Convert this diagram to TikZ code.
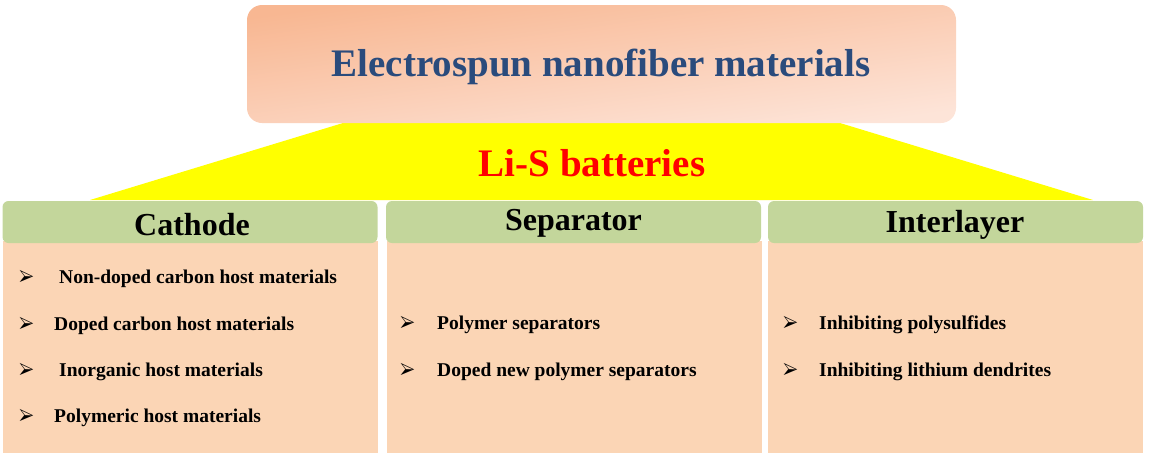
\documentclass[tikz,border=0pt]{standalone}
\usepackage{fontspec}
\setmainfont{Liberation Serif}
\usepackage{pifont}
\usepackage{xcolor}
\usepackage{tikz}
\definecolor{topdark}{HTML}{F8B792}
\definecolor{toplight}{HTML}{FDE4D8}
\definecolor{title}{HTML}{2A4B7C}
\definecolor{lisred}{HTML}{FF0000}
\definecolor{trap}{HTML}{FFFF00}
\definecolor{head}{HTML}{C3D69B}
\definecolor{body}{HTML}{FBD5B5}
\definecolor{ink}{HTML}{000000}
\newcommand{\arrowmark}{\scalebox{1}[1.45]{\ding{226}}}
\tikzset{
  topbox/.style={top color=topdark, bottom color=toplight, shading angle=8, rounded corners=15pt, minimum width=709pt, minimum height=118pt, inner sep=0pt},
  headbox/.style={fill=head, rounded corners=6pt, minimum width=375pt, minimum height=42pt, inner sep=0pt},
  headtxt/.style={text=ink, font=\bfseries\fontsize{32}{34}\selectfont},
  bodybox/.style={fill=body, minimum width=375pt, minimum height=212pt, inner sep=0pt},
  bul/.style={anchor=west, inner sep=0pt, text=ink, font=\fontsize{16}{17}\selectfont},
  item/.style={anchor=west, inner sep=0pt, text=ink, font=\bfseries\fontsize{19.5}{21}\selectfont},
}
\begin{document}
\begin{tikzpicture}[x=1pt, y=-1pt]
  \useasboundingbox (0,0) rectangle (1149,459);

  % yellow band under the title
  \coordinate (tl) at (343,123);
  \coordinate (tr) at (840,123);
  \coordinate (br) at (1093,200);
  \coordinate (bl) at (90,200);
  \fill[trap] (tl)--(tr)--(br)--(bl)--cycle;

  \node[topbox] (top) at (601.5,64) {};
  \node[text=title, font=\bfseries\fontsize{39}{41}\selectfont] (toptxt) at (601,67) {Electrospun nanofiber materials};
  \node[text=lisred, font=\bfseries\fontsize{39}{41}\selectfont] (lis) at (592,163) {Li-S batteries};

  % columns
  \node[bodybox] (cathbody) at (190.5,347) {};
  \node[bodybox] (sepbody) at (574,347) {};
  \node[bodybox] (interbody) at (955.5,347) {};
  \node[headbox] (cath) at (190,222) {};
  \node[headbox] (sep) at (573.5,222) {};
  \node[headbox] (inter) at (955.5,222) {};
  \node[headtxt] (cathtxt) at (192,225) {Cathode};
  \node[headtxt] (septxt) at (573.5,223) {Separator};
  \node[headtxt] (intertxt) at (955,225) {Interlayer};

  \node[bul] (cb1) at (19,278) {\arrowmark};
  \node[item] (c1) at (59,279) {Non-doped carbon host materials};
  \node[bul] (cb2) at (19,325) {\arrowmark};
  \node[item] (c2) at (54,326) {Doped carbon host materials};
  \node[bul] (cb3) at (19,371) {\arrowmark};
  \node[item] (c3) at (59,372) {Inorganic host materials};
  \node[bul] (cb4) at (19,417) {\arrowmark};
  \node[item] (c4) at (54,418) {Polymeric host materials};

  \node[bul] (sb1) at (400,324) {\arrowmark};
  \node[item] (s1) at (437,325) {Polymer separators};
  \node[bul] (sb2) at (400,371) {\arrowmark};
  \node[item] (s2) at (437,372) {Doped new polymer separators};

  \node[bul] (ib1) at (783,324) {\arrowmark};
  \node[item] (i1) at (819,325) {Inhibiting polysulfides};
  \node[bul] (ib2) at (783,371) {\arrowmark};
  \node[item] (i2) at (819,372) {Inhibiting lithium dendrites};
\end{tikzpicture}
\end{document}
